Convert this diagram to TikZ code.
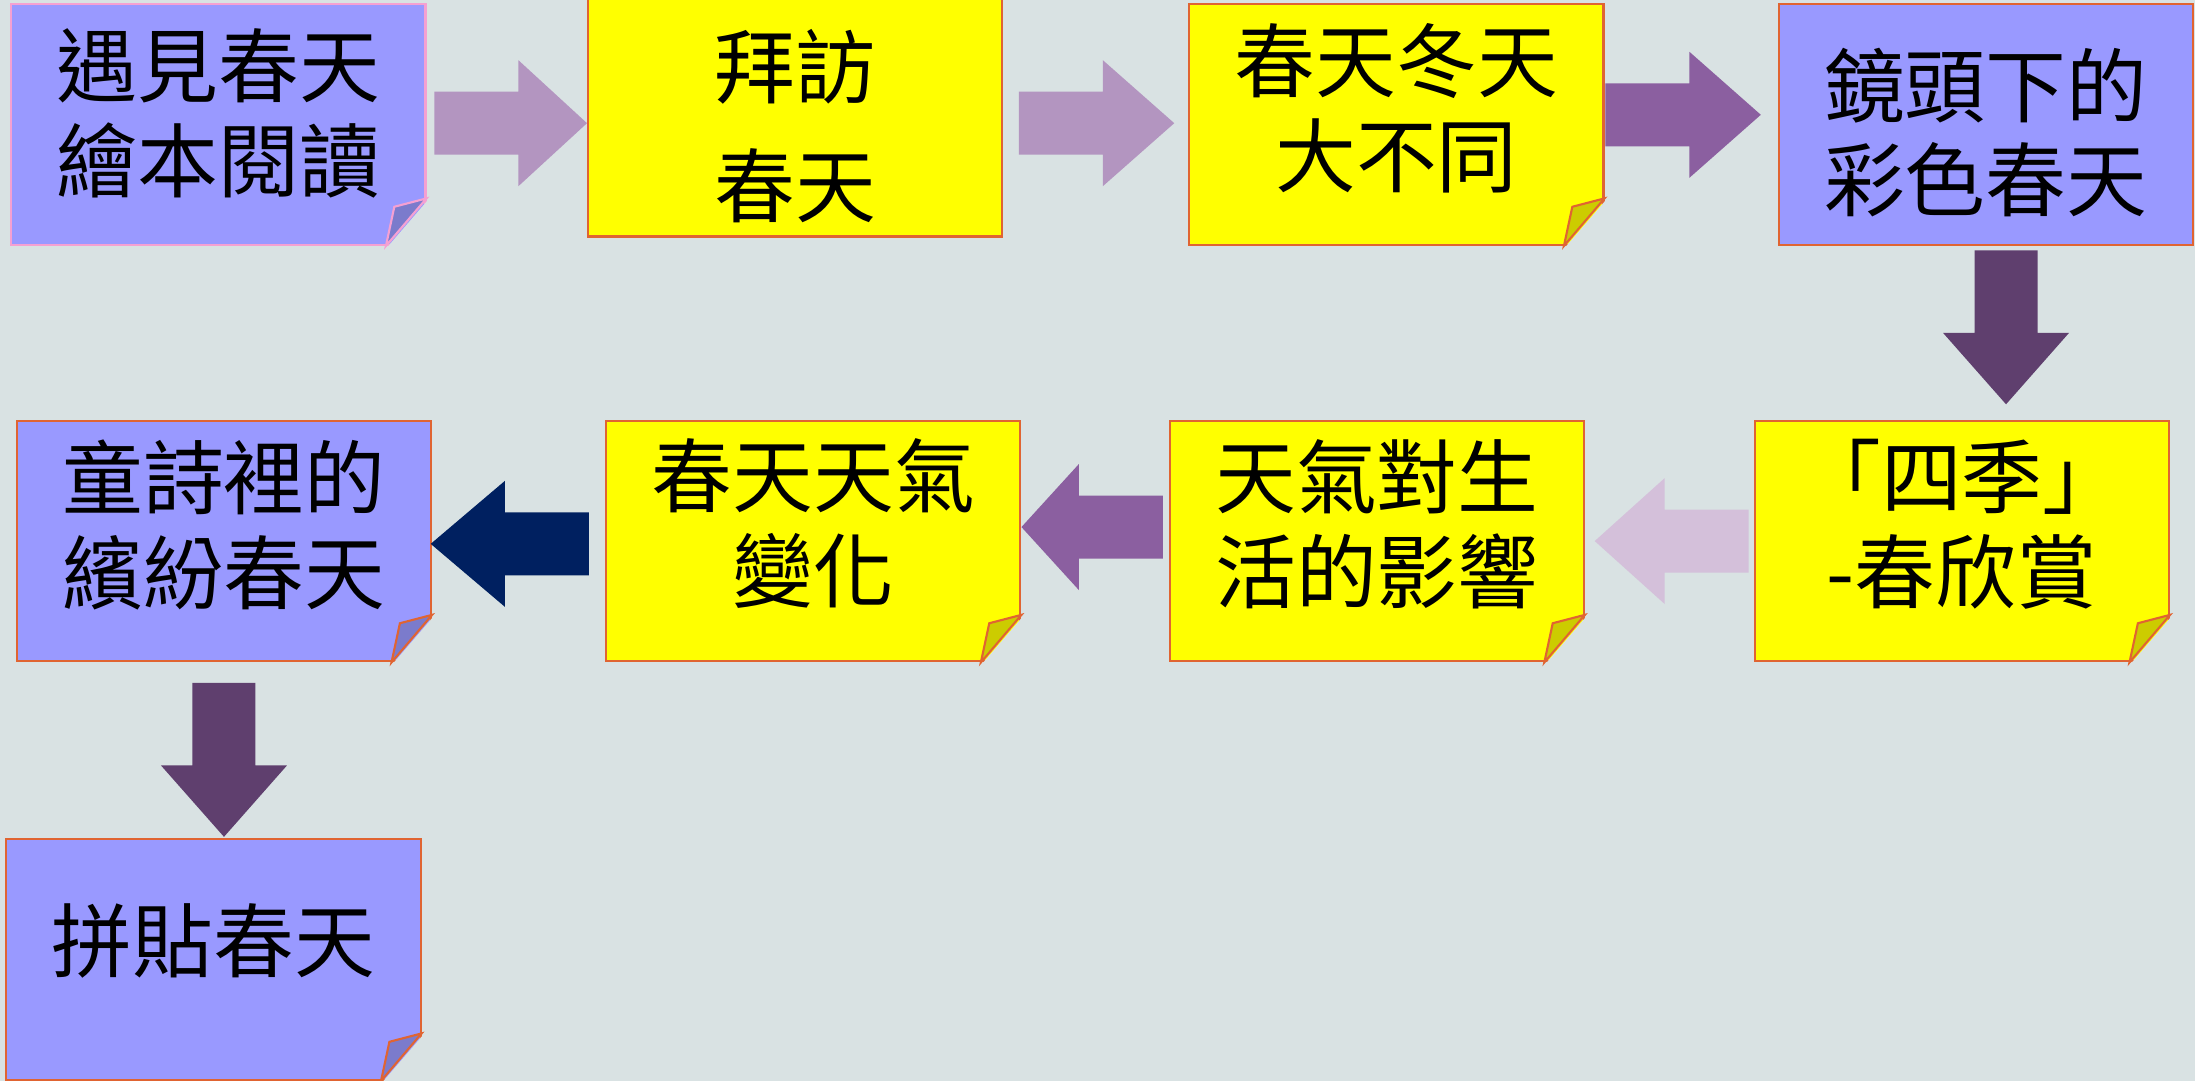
\documentclass[tikz,border=0pt]{standalone}
\usepackage{fontspec}
\newfontfamily\cjk{Noto Sans CJK TC}
\usetikzlibrary{calc}
\definecolor{bgc}{RGB}{217,226,227}
\definecolor{notey}{RGB}{255,255,0}
\definecolor{foldy}{RGB}{204,204,0}
\definecolor{noteb}{RGB}{153,153,255}
\definecolor{foldb}{RGB}{123,123,204}
\definecolor{edgec}{RGB}{224,100,50}
\definecolor{edgep}{RGB}{245,160,210}
\definecolor{arrA}{RGB}{179,149,192}
\definecolor{arrB}{RGB}{139,95,160}
\definecolor{arrC}{RGB}{95,63,110}
\definecolor{arrD}{RGB}{212,192,218}
\definecolor{arrE}{RGB}{0,32,96}
\begin{document}
\begin{tikzpicture}[x=0.014cm, y=0.014cm,
  note/.style={draw=edgec, line width=0.6pt, minimum width=4.144cm, minimum height=2.408cm,
    inner sep=0pt, align=center, font=\cjk\fontsize{23}{27}\selectfont},
  yel/.style={note, fill=notey},
  blu/.style={note, fill=noteb},
  lift/.style={execute at end node={\rule[-#1]{0pt}{#1}}},
  sink/.style={execute at begin node={\rule{0pt}{#1}}},
  pics/fold/.style 2 args={code={
    \fill[bgc] (-29,-2) -- (2,-2) -- (2,34) -- cycle;
    \filldraw[fill=#1, draw=#2, line width=0.6pt] (-29,0) -- (-23,28) -- (0,34) -- cycle;}},
  pics/barrow/.style n args={3}{code={
    \fill[#3] (0,0) -- (-#1,45) -- (-#1,22.5) -- (-#2,22.5) -- (-#2,-22.5) -- (-#1,-22.5) -- (-#1,-45) -- cycle;}}
]
\fill[bgc] (0,0) rectangle (1568,772);
\useasboundingbox (0,0) rectangle (1568,772);

% first row
\node[blu, draw=edgep, lift=8.4pt] (meet) at (156,683) {遇見春天\\繪本閱讀};
\node[yel, sink=59pt] (visit) at (568,689) {拜訪\\[7pt]春天};
\node[yel, lift=11.2pt] (diff) at (997.5,683) {春天冬天\\大不同};
\node[blu, sink=51pt] (lens) at (1418.5,683) {鏡頭下的\\彩色春天};
% second row
\node[yel, lift=11.6pt] (season) at (1401.5,385.5) {「四季」\\-春欣賞};
\node[yel, lift=11.2pt] (life) at (983.5,385.5) {天氣對生\\活的影響};
\node[yel, lift=12pt] (change) at (581,385.5) {春天天氣\\變化};
\node[blu, lift=11.2pt] (poem) at (160,385.5) {童詩裡的\\繽紛春天};
% last one
\node[blu, lift=12.8pt] (collage) at (152.5,86.5) {拼貼春天};

\pic at (meet.south east) {fold={foldb}{edgep}};
\pic at (diff.south east) {fold={foldy}{edgec}};
\pic at (season.south east) {fold={foldy}{edgec}};
\pic at (life.south east) {fold={foldy}{edgec}};
\pic at (change.south east) {fold={foldy}{edgec}};
\pic at (poem.south east) {fold={foldb}{edgec}};
\pic at (collage.south east) {fold={foldb}{edgec}};

\pic at ($(visit.west)+(0,-5)$) {barrow={49}{109}{arrA}};
\pic at ($(diff.west)+(-10,1)$) {barrow={51}{111}{arrA}};
\pic at ($(lens.west)+(-12,7)$) {barrow={51}{111}{arrB}};
\pic[rotate=-90] at ($(season.north)+(31.5,11)$) {barrow={51}{110}{arrC}};
\pic[rotate=180] at ($(life.east)+(7,0)$) {barrow={50}{110}{arrD}};
\pic[rotate=180] at ($(change.east)+(0,10)$) {barrow={41}{101}{arrB}};
\pic[rotate=180] at ($(poem.east)+(-1,-2)$) {barrow={53}{113}{arrE}};
\pic[rotate=-90] at ($(collage.north)+(7.5,1)$) {barrow={51}{110}{arrC}};
\end{tikzpicture}
\end{document}
